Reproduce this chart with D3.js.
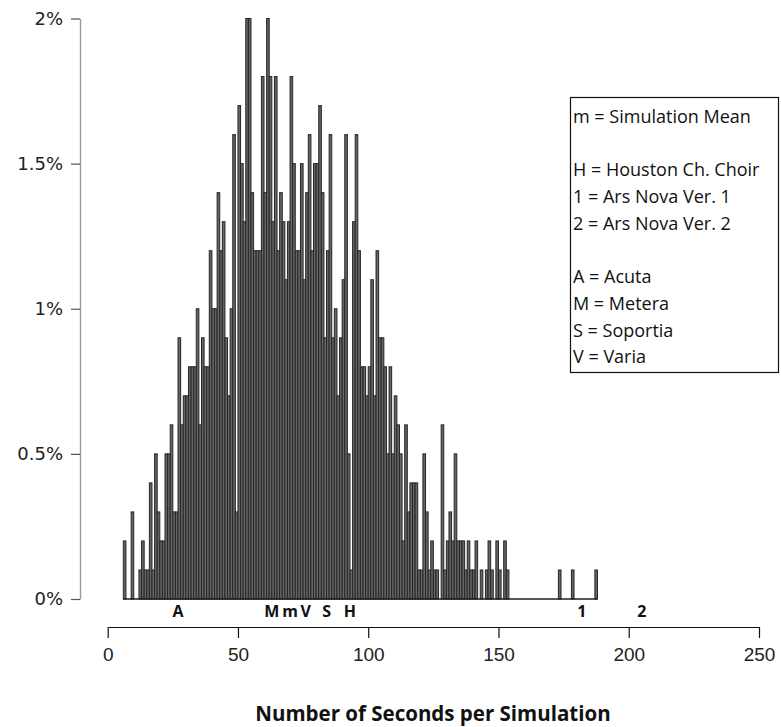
<!DOCTYPE html>
<html><head><meta charset="utf-8">
<script src="https://cdn.jsdelivr.net/npm/d3@7"></script>
<style>body{margin:0;background:#fff}</style>
</head><body>
<svg id="c" width="781" height="727"></svg>
<script>
// histogram: 1-second bins starting at firstBin, values in percent
const firstBin = 6;
const pct = [
 0.2,0,0,0.3,0,0,0.1,0.2,0.1,0.1,            // 6-15
 0.4,0.1,0.5,0.3,0.2,0.2,0.5,0.5,0.6,0.3,    // 16-25
 0.3,0.9,0.6,0.7,0.7,0.8,0.8,0.8,1.0,0.6,    // 26-35
 0.9,0.8,0.8,1.2,1.0,1.0,1.4,1.2,1.3,0.9,    // 36-45
 0.7,1.0,1.6,0.3,1.7,1.5,1.3,2.0,2.0,1.4,    // 46-55
 1.2,1.2,1.2,1.8,1.4,2.0,1.8,1.3,1.8,1.2,    // 56-65
 1.4,1.3,1.1,1.3,1.8,1.5,1.2,1.2,1.5,1.1,    // 66-75
 1.4,1.6,1.2,1.5,1.5,1.7,1.4,0.9,1.2,1.6,    // 76-85
 0.9,1.0,0.7,0.9,1.1,1.6,0.5,0.1,1.3,1.6,    // 86-95
 1.2,0.8,0.8,0.7,0.8,1.1,0.7,1.2,0.9,0.9,    // 96-105
 0.8,0.5,0.8,0.5,0.7,0.6,0.5,0.2,0.6,0.3,    // 106-115
 0.4,0.4,0.4,0.1,0.1,0.5,0.3,0.1,0.2,0.1,    // 116-125
 0.1,0,0.6,0.1,0.2,0.3,0.2,0.5,0.2,0.2,      // 126-135
 0.2,0.1,0.2,0.1,0.1,0.2,0,0.1,0,0.1,        // 136-145
 0.2,0.1,0,0.2,0.1,0,0.2,0.1,0,0,            // 146-155
 0,0,0,0,0,0,0,0,0,0,                        // 156-165
 0,0,0,0,0,0,0,0.1,0,0,                      // 166-175
 0,0,0.1,0,0,0,0,0,0,0,                      // 176-185
 0,0.1                                       // 186-187
];
const yTicks = [0, 0.5, 1, 1.5, 2];
const yTickLabels = ["0%", "0.5%", "1%", "1.5%", "2%"];
const xTicks = [0, 50, 100, 150, 200, 250];
const markLabels = ["A", "M", "m", "V", "S", "H", "1", "2"];
const markValues = [27, 63, 70, 76, 84, 93, 182, 205];
const legendLines = ["m = Simulation Mean", "", "H = Houston Ch. Choir", "1 = Ars Nova Ver. 1",
  "2 = Ars Nova Ver. 2", "", "A = Acuta", "M = Metera", "S = Soportia", "V = Varia"];
const xTitle = "Number of Seconds per Simulation";

const bins = pct.map((v, i) => ({ x0: firstBin + i, x1: firstBin + i + 1, v }));

const svg = d3.select("#c");
const x = d3.scaleLinear().domain([0, 250]).range([107.7, 759]);
const y = d3.scaleLinear().domain([0, 2]).range([599, 18.5]);

// bars
svg.append("g").selectAll("rect").data(bins.filter(d => d.v > 0)).join("rect")
  .attr("x", d => x(d.x0)).attr("width", d => x(d.x1) - x(d.x0))
  .attr("y", d => y(d.v)).attr("height", d => y(0) - y(d.v))
  .attr("fill", "#666").attr("stroke", "#262626").attr("stroke-width", 1);
// baseline of histogram
svg.append("line")
  .attr("x1", x(bins[0].x0)).attr("x2", x(bins[bins.length - 1].x1))
  .attr("y1", y(0)).attr("y2", y(0)).attr("stroke", "#1e1e1e").attr("stroke-width", 1.3);

// y axis
const yAxis = d3.axisLeft(y).tickValues(yTicks).tickFormat((d, i) => yTickLabels[i])
  .tickSize(9).tickSizeOuter(0).tickPadding(8);
const gy = svg.append("g").attr("transform", "translate(80,0)").call(yAxis);
gy.select(".domain").attr("stroke", "#9a9a9a").attr("stroke-width", 1.4);
gy.selectAll(".tick line").attr("stroke", "#555").attr("stroke-width", 1.2);
gy.selectAll(".tick text").attr("font-family", "DejaVu Sans, Verdana, sans-serif")
  .attr("font-size", 18).attr("fill", "#222");

// x axis
const xAxis = d3.axisBottom(x).tickValues(xTicks).tickSize(11).tickSizeOuter(0).tickPadding(10);
const gx = svg.append("g").attr("transform", "translate(0,627)").call(xAxis);
gx.select(".domain").attr("stroke", "#111").attr("stroke-width", 1.2);
gx.selectAll(".tick line").attr("stroke", "#111").attr("stroke-width", 1.2);
gx.selectAll(".tick text").attr("font-family", "Liberation Sans, Arial, sans-serif")
  .attr("font-size", 19).attr("fill", "#222");

// marker labels
svg.append("g").selectAll("text").data(markLabels).join("text")
  .attr("x", (d, i) => x(markValues[i])).attr("y", 617)
  .attr("text-anchor", "middle").attr("font-family", "Open Sans, sans-serif")
  .attr("font-weight", "bold").attr("font-size", 16).attr("fill", "#111").text(d => d);

// x title
svg.append("text").attr("x", 433).attr("y", 721).attr("text-anchor", "middle")
  .attr("font-family", "Open Sans, sans-serif").attr("font-weight", "bold")
  .attr("font-size", 20.5).attr("fill", "#111").text(xTitle);

// legend box
const lg = svg.append("g");
lg.append("rect").attr("x", 570.5).attr("y", 97.5).attr("width", 208).attr("height", 275)
  .attr("fill", "#fff").attr("stroke", "#111").attr("stroke-width", 1.2);
lg.selectAll("text").data(legendLines).join("text")
  .attr("x", 573).attr("y", (d, i) => 123 + i * 26.7)
  .attr("font-family", "Open Sans, sans-serif").attr("font-size", 18).attr("fill", "#111")
  .text(d => d);
</script>
</body></html>
